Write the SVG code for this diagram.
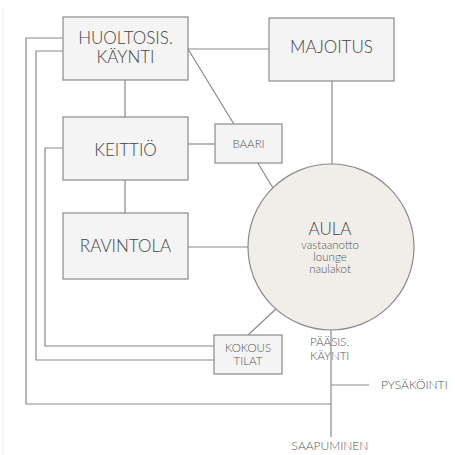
<svg xmlns="http://www.w3.org/2000/svg" width="455" height="455" viewBox="0 0 455 455">
<style>
.box{fill:#f4f4f4;stroke:#8a8a8a;stroke-width:1.2}
.circ{fill:#f1eeea;stroke:#8a8a8a;stroke-width:1.2}
.ln{fill:none;stroke:#8a8a8a;stroke-width:1.2}
.big{font-family:Lato,"Liberation Sans",sans-serif;font-size:17px;fill:#444;text-anchor:middle;font-weight:300}
.sm{font-family:Lato,"Liberation Sans",sans-serif;font-size:11.5px;fill:#555;text-anchor:middle;font-weight:300}
.lab{font-family:Lato,"Liberation Sans",sans-serif;font-size:12px;fill:#555;font-weight:300}
</style>
<rect width="455" height="455" fill="#ffffff"/>
<line x1="3" y1="8" x2="3" y2="455" stroke="#ececec" stroke-width="1"/>
<g id="connectors">
<line class="ln" x1="188" y1="49" x2="269" y2="49"/>
<line class="ln" x1="188" y1="49" x2="273" y2="188"/>
<line class="ln" x1="125" y1="80" x2="125" y2="117"/>
<line class="ln" x1="125" y1="180" x2="125" y2="213"/>
<line class="ln" x1="188" y1="144" x2="215" y2="144"/>
<line class="ln" x1="332" y1="81" x2="332" y2="166"/>
<line class="ln" x1="188" y1="247" x2="248" y2="247"/>
<line class="ln" x1="248" y1="335" x2="276" y2="309"/>
<polyline class="ln" points="63,38 26,38 26,404 331,404"/>
<polyline class="ln" points="63,51 36,51 36,360 214,360"/>
<polyline class="ln" points="63,148 45,148 45,346 214,346"/>
<line class="ln" x1="331" y1="329" x2="331" y2="437"/>
<line class="ln" x1="331" y1="385" x2="369" y2="385"/>
</g>
<g id="huoltosis">
<rect class="box" x="63" y="17" width="125" height="63"/>
<text class="big" x="125.5" y="44">HUOLTOSIS.</text>
<text class="big" x="125.5" y="63">KÄYNTI</text>
</g>
<g id="majoitus">
<rect class="box" x="269" y="18" width="125" height="63"/>
<text class="big" x="331.5" y="53">MAJOITUS</text>
</g>
<g id="keittio">
<rect class="box" x="63" y="117" width="125" height="63"/>
<text class="big" x="125.5" y="156">KEITTIÖ</text>
</g>
<g id="baari">
<rect class="box" x="215" y="124" width="67" height="39"/>
<text class="sm" x="248.5" y="148">BAARI</text>
</g>
<g id="ravintola">
<rect class="box" x="63" y="213" width="125" height="66"/>
<text class="big" x="125.5" y="252">RAVINTOLA</text>
</g>
<g id="aula">
<circle class="circ" cx="331" cy="247" r="83"/>
<text class="big" x="330" y="235">AULA</text>
<text class="sm" x="330" y="249">vastaanotto</text>
<text class="sm" x="330" y="261">lounge</text>
<text class="sm" x="330" y="273">naulakot</text>
</g>
<g id="kokous">
<rect class="box" x="214" y="335" width="68" height="39"/>
<text class="sm" x="248" y="352">KOKOUS</text>
<text class="sm" x="248" y="365">TILAT</text>
</g>
<g id="labels">
<text class="lab" x="310" y="346" style="font-size:11.5px">PÄÄSIS.</text>
<text class="lab" x="310" y="360" style="font-size:11.5px">KÄYNTI</text>
<text class="lab" x="381" y="389">PYSÄKÖINTI</text>
<text class="lab" x="330" y="450" text-anchor="middle">SAAPUMINEN</text>
</g>
</svg>
